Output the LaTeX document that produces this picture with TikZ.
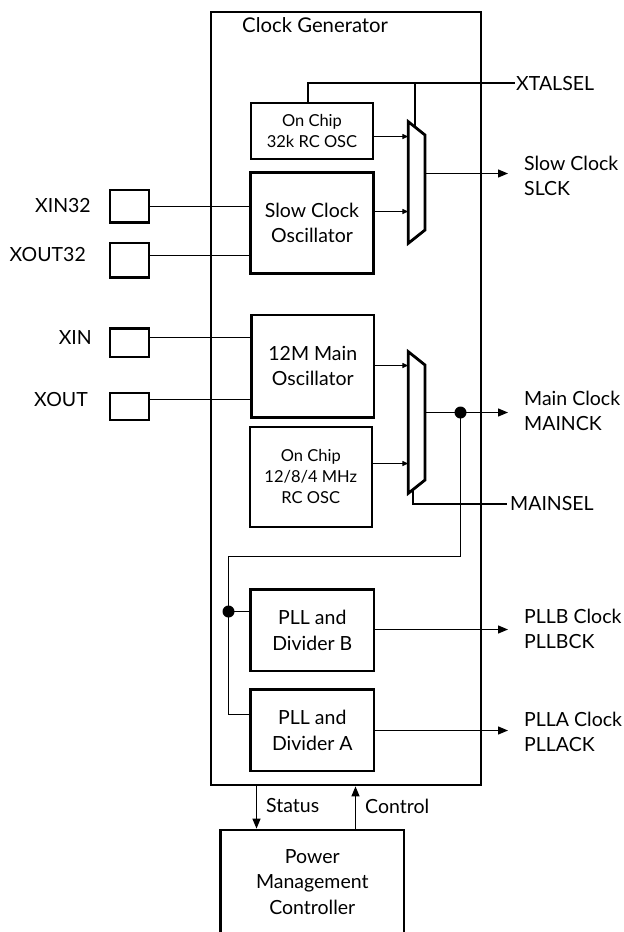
\documentclass[tikz,border=0pt]{standalone}
\usepackage{fontspec}
\setmainfont{Lato}
\usetikzlibrary{arrows.meta,calc}
\newcommand{\bigf}{\fontsize{19.5}{25.5}\selectfont}
\newcommand{\smallf}{\fontsize{16.5}{21}\selectfont}
\tikzset{
  thickbox/.style={draw, line width=2.8pt, inner sep=0pt, align=center, font=\bigf},
  thinbox/.style={draw, line width=1.8pt, inner sep=0pt, align=center, font=\smallf},
  pin/.style={draw, line width=2.4pt, inner sep=0pt, minimum width=39pt},
  wire/.style={line width=1.3pt},
  arr/.style={wire, -{Triangle[length=10pt,width=8pt]}},
  sarr/.style={wire, -{Triangle[length=6pt,width=5pt]}},
  muxshape/.style={line width=2.8pt, line join=miter},
  lbl/.style={font=\bigf, inner sep=0pt, align=left},
  dot/.style={fill, circle, inner sep=0pt, minimum size=12pt}
}
\begin{document}
\begin{tikzpicture}[x=1pt,y=-1pt]
\useasboundingbox (0,0) rectangle (624,932);
% main block
\node[draw, line width=2.8pt, minimum width=270pt, minimum height=773pt, inner sep=0pt] (cg) at (346,398.5) {};
\node[lbl, anchor=west, font=\fontsize{20.3}{24}\selectfont] (title) at (242,25) {Clock Generator};
% oscillators
\node[thinbox, minimum width=122.6pt, minimum height=56pt] (osc32) at (312,131.3) {On Chip\\32k RC OSC};
\node[thickbox, minimum width=122.6pt, minimum height=100.6pt] (sco) at (312,223) {Slow Clock\\Oscillator};
\node[thickbox, minimum width=122.3pt, minimum height=102.3pt] (main12) at (312.8,366.2) {12M Main\\Oscillator};
\node[thinbox, minimum width=121.7pt, minimum height=100pt] (rc) at (310.8,476.7) {On Chip\\12/8/4 MHz\\RC OSC};
\node[thickbox, minimum width=123.3pt, minimum height=81.7pt] (pllb) at (312.3,630.2) {PLL and\\Divider B};
\node[thickbox, minimum width=123.3pt, minimum height=81.7pt] (plla) at (312.3,730.2) {PLL and\\Divider A};
\node[thickbox, minimum width=183.3pt, minimum height=104pt] (pmc) at (312.3,882) {Power\\Management\\Controller};
% pins
\node[pin, minimum height=32.3pt] (xin32) at (129.7,206.2) {};
\node[pin, minimum height=34.6pt] (xout32) at (129.7,260) {};
\node[pin, minimum height=28.4pt] (xin) at (129.7,342.5) {};
\node[pin, minimum height=27.3pt] (xout) at (129.7,406.4) {};
\node[lbl, anchor=east] (lxin32) at (91,206) {XIN32};
\node[lbl, anchor=east] (lxout32) at (86,255) {XOUT32};
\node[lbl, anchor=east] (lxin) at (92,338) {XIN};
\node[lbl, anchor=east] (lxout) at (88,400) {XOUT};
\draw[wire] (xin32.east |- 0,206.5) -- (sco.west |- 0,206.5);
\draw[wire] (xout32.east |- 0,255.5) -- (sco.west |- 0,255.5);
\draw[wire] (xin.east |- 0,337.5) -- (main12.west |- 0,337.5);
\draw[wire] (xout.east |- 0,399.5) -- (main12.west |- 0,399.5);
% mux 1
\coordinate (m1a) at (408.3,121.7);
\coordinate (m1b) at (425,135);
\coordinate (m1c) at (425,230);
\coordinate (m1d) at (408.3,243.3);
\draw[muxshape] (m1a) -- (m1b) -- (m1c) -- (m1d) -- cycle;
\draw[sarr] (osc32.east |- 0,136.5) -- (m1a |- 0,136.5);
\draw[sarr] (sco.east |- 0,211.5) -- (m1a |- 0,211.5);
\coordinate (slck) at (508,173.5);
\draw[arr] (m1b |- 0,173.5) -- (slck);
\node[lbl, anchor=west] (lslck) at (524,176) {Slow Clock\\SLCK};
% XTALSEL
\coordinate (xt) at (515,83.3);
\node[lbl, anchor=west] (lxt) at (516,84) {XTALSEL};
\draw[wire, line width=2pt] (osc32.north -| 308.3,0) -- (308.3,83.3) -- (xt);
\draw[wire, line width=2pt] (415,83.3) -- (415,127);
% mux 2
\coordinate (m2a) at (408.3,351.7);
\coordinate (m2b) at (425,365);
\coordinate (m2c) at (425,480);
\coordinate (m2d) at (408.3,493.3);
\draw[muxshape] (m2a) -- (m2b) -- (m2c) -- (m2d) -- cycle;
\draw[sarr] (main12.east |- 0,365.5) -- (m2a |- 0,365.5);
\draw[sarr] (rc.east |- 0,463.5) -- (m2a |- 0,463.5);
\coordinate (mainck) at (508,412.5);
\draw[arr] (m2b |- 0,412.5) -- (mainck);
\node[dot] (d1) at (460.5,412.5) {};
\node[lbl, anchor=west] (lmain) at (524,411) {Main Clock\\MAINCK};
\coordinate (ms) at (506.7,504);
\draw[wire, line width=2pt] (413.3,489.3) -- (413.3,504) -- (ms);
\node[lbl, anchor=west] (lms) at (510,504) {MAINSEL};
% feedback to PLLs
\node[dot] (d2) at (228.5,611.5) {};
\draw[wire] (d1.center) -- (460.5,556.5) -- (228.5,556.5) -- (228.5,714.5) -- (plla.west |- 0,714.5);
\draw[wire] (d2.center) -- (pllb.west |- d2);
\draw[arr] (pllb.east |- 0,629.5) -- (508,629.5);
\draw[arr] (plla.east |- 0,730.5) -- (508,730.5);
\node[lbl, anchor=west] (lpllb) at (524,629) {PLLB Clock\\PLLBCK};
\node[lbl, anchor=west] (lplla) at (524,732) {PLLA Clock\\PLLACK};
% status / control
\draw[arr] (cg.south -| 256.5,0) -- (pmc.north -| 256.5,0);
\draw[arr] (pmc.north -| 355.5,0) -- (cg.south -| 355.5,0);
\node[lbl, anchor=west] (lst) at (266,806) {Status};
\node[lbl, anchor=west] (lct) at (365,806) {Control};
\end{tikzpicture}
\end{document}
